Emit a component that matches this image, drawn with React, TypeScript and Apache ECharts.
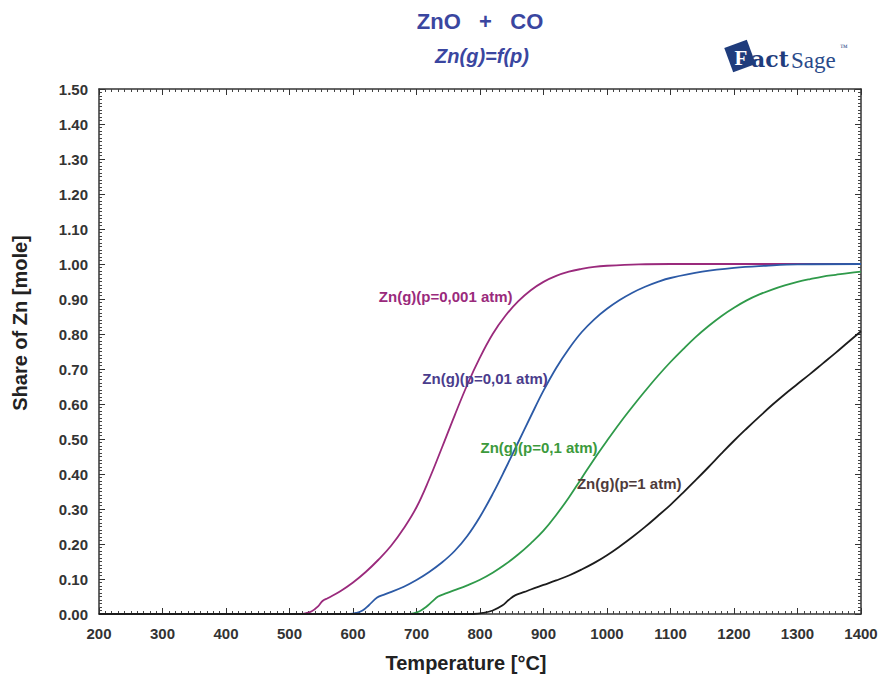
import React, { useEffect, useRef } from "react";
import * as echarts from "echarts";

const xTicks = [200, 300, 400, 500, 600, 700, 800, 900, 1000, 1100, 1200, 1300, 1400];
const yTickLabels = ["0.00","0.10","0.20","0.30","0.40","0.50","0.60","0.70","0.80","0.90","1.00","1.10","1.20","1.30","1.40","1.50"];

const p0001T = [200, 515, 525, 535, 545, 552, 560, 580, 600, 620, 640, 660, 680, 700, 720, 740, 760, 780, 800, 820, 840, 860, 880, 900, 920, 940, 960, 980, 1000, 1050, 1100, 1400];
const p0001V = [0, 0, 0.002, 0.008, 0.022, 0.037, 0.045, 0.065, 0.09, 0.12, 0.155, 0.195, 0.245, 0.305, 0.385, 0.475, 0.567, 0.655, 0.733, 0.80, 0.852, 0.893, 0.925, 0.949, 0.966, 0.978, 0.986, 0.992, 0.995, 0.999, 1.0, 1.0];

const p001T = [200, 595, 605, 615, 625, 638, 650, 680, 700, 720, 740, 760, 780, 800, 820, 840, 860, 880, 900, 920, 940, 960, 980, 1000, 1020, 1040, 1060, 1080, 1100, 1150, 1200, 1250, 1300, 1400];
const p001V = [0, 0, 0.003, 0.01, 0.025, 0.047, 0.056, 0.078, 0.097, 0.12, 0.147, 0.18, 0.223, 0.278, 0.343, 0.415, 0.49, 0.565, 0.638, 0.703, 0.758, 0.805, 0.842, 0.872, 0.897, 0.918, 0.935, 0.949, 0.96, 0.978, 0.989, 0.995, 0.999, 1.0];

const p01T = [200, 685, 695, 705, 715, 725, 734, 745, 760, 780, 800, 820, 840, 860, 880, 900, 920, 940, 960, 980, 1000, 1020, 1040, 1060, 1080, 1100, 1120, 1140, 1160, 1180, 1200, 1220, 1240, 1260, 1280, 1300, 1320, 1340, 1360, 1380, 1400];
const p01V = [0, 0, 0.002, 0.008, 0.02, 0.036, 0.05, 0.058, 0.068, 0.082, 0.098, 0.118, 0.142, 0.17, 0.202, 0.238, 0.283, 0.333, 0.388, 0.443, 0.495, 0.545, 0.592, 0.637, 0.68, 0.72, 0.757, 0.792, 0.823, 0.851, 0.875, 0.896, 0.913, 0.927, 0.939, 0.949, 0.957, 0.964, 0.969, 0.974, 0.978];

const p1T = [200, 790, 805, 820, 835, 845, 856, 870, 880, 900, 920, 940, 960, 980, 1000, 1020, 1040, 1060, 1080, 1100, 1120, 1140, 1160, 1180, 1200, 1220, 1240, 1260, 1280, 1300, 1320, 1340, 1360, 1380, 1400];
const p1V = [0, 0, 0.003, 0.01, 0.024, 0.04, 0.054, 0.063, 0.07, 0.083, 0.096, 0.11, 0.127, 0.146, 0.168, 0.193, 0.22, 0.249, 0.28, 0.312, 0.347, 0.383, 0.42, 0.458, 0.495, 0.53, 0.564, 0.597, 0.628, 0.657, 0.686, 0.716, 0.746, 0.777, 0.808];

const seriesNames = ["Zn(g)(p=0,001 atm)", "Zn(g)(p=0,01 atm)", "Zn(g)(p=0,1 atm)", "Zn(g)(p=1 atm)"];
const seriesT = [p0001T, p001T, p01T, p1T];
const seriesV = [p0001V, p001V, p01V, p1V];
const lineColors = ["#9a2a7c", "#2c5aa6", "#2f9a4a", "#1c1c1c"];
const labelColors = ["#9a2a7c", "#4a3c8c", "#3c9a3c", "#4e3a3a"];
// label anchor positions in data coordinates [T, value]
const labelAnchors = [[746, 0.906], [808, 0.674], [893, 0.477], [1035, 0.374]];

const FONT = "'Liberation Sans', Arial, sans-serif";

export default function App() {
  const ref = useRef<HTMLDivElement>(null);
  useEffect(() => {
    const chart = echarts.init(ref.current!, null, { renderer: "svg" });
    const axisCommon = {
      type: "value" as const,
      axisLine: { show: true, onZero: false, lineStyle: { color: "#333", width: 1.5 } },
      axisTick: { show: true, inside: true, length: 6, lineStyle: { color: "#333", width: 1 } },
      minorTick: { show: true, splitNumber: 10, length: 3, lineStyle: { color: "#444", width: 1 } },
      splitLine: { show: false },
    };
    chart.setOption({
      animation: false,
      backgroundColor: "#ffffff",
      grid: { left: 99, right: 22, top: 89, bottom: 63 },
      xAxis: [
        {
          ...axisCommon,
          position: "bottom",
          min: 200,
          max: 1400,
          interval: 100,
          axisLabel: {
            margin: 12,
            color: "#333",
            fontFamily: FONT,
            fontWeight: "bold",
            fontSize: 15,
            formatter: (v: number) => (xTicks.includes(v) ? String(v) : ""),
          },
        },
        {
          ...axisCommon,
          position: "top",
          min: 200,
          max: 1400,
          interval: 100,
          axisLabel: { show: false },
        },
      ],
      yAxis: [
        {
          ...axisCommon,
          position: "left",
          min: 0,
          max: 1.5,
          interval: 0.1,
          axisLabel: {
            margin: 11,
            color: "#333",
            fontFamily: FONT,
            fontWeight: "bold",
            fontSize: 15,
            formatter: (v: number) => yTickLabels[Math.round(v * 10)] ?? "",
          },
        },
        {
          ...axisCommon,
          position: "right",
          min: 0,
          max: 1.5,
          interval: 0.1,
          axisLabel: { show: false },
        },
      ],
      series: seriesNames.map((name, i) => ({
        name,
        type: "line",
        xAxisIndex: 0,
        yAxisIndex: 0,
        showSymbol: false,
        smooth: 0.4,
        lineStyle: { color: lineColors[i], width: 1.8 },
        data: seriesT[i].map((t, j) => [t, seriesV[i][j]]),
        z: 3,
      })),
    });

    const labelGraphics = seriesNames.map((name, i) => {
      const p = chart.convertToPixel({ xAxisIndex: 0, yAxisIndex: 0 }, labelAnchors[i]) as number[];
      return {
        type: "text",
        x: p[0],
        y: p[1],
        z: 10,
        style: {
          text: name,
          fill: labelColors[i],
          font: `bold 15px ${FONT}`,
          align: "center",
          verticalAlign: "middle",
        },
      };
    });

    chart.setOption({
      graphic: [
        ...labelGraphics,
        {
          type: "text",
          x: 480,
          y: 21,
          style: { text: "ZnO   +   CO", fill: "#3a46a0", font: `bold 22px ${FONT}`, align: "center", verticalAlign: "middle" },
        },
        {
          type: "text",
          x: 482,
          y: 56,
          style: { text: "Zn(g)=f(p)", fill: "#3a46a0", font: `italic bold 20px ${FONT}`, align: "center", verticalAlign: "middle" },
        },
        {
          type: "text",
          x: 20,
          y: 323,
          rotation: Math.PI / 2,
          style: { text: "Share of Zn [mole]", fill: "#222", font: `bold 20px ${FONT}`, align: "center", verticalAlign: "middle" },
        },
        {
          type: "text",
          x: 466,
          y: 663,
          style: { text: "Temperature [°C]", fill: "#222", font: `bold 20px ${FONT}`, align: "center", verticalAlign: "middle" },
        },
        {
          type: "group",
          x: 0,
          y: 0,
          children: [
            {
              type: "rect",
              x: 740,
              y: 56,
              rotation: 0.35,
              shape: { x: -12, y: -13, width: 24, height: 26 },
              style: { fill: "#1f3c7c" },
            },
            {
              type: "text",
              x: 741,
              y: 58,
              style: { text: "F", fill: "#ffffff", font: "bold 21px 'Liberation Serif', serif", align: "center", verticalAlign: "middle" },
            },
            {
              type: "text",
              x: 751,
              y: 59,
              style: { text: "act", fill: "#1f3c7c", font: "bold 22px 'DejaVu Serif', serif", align: "left", verticalAlign: "middle" },
            },
            {
              type: "text",
              x: 791,
              y: 60,
              style: { text: "Sage", fill: "#2a4a8a", font: "23px 'Liberation Serif', serif", align: "left", verticalAlign: "middle" },
            },
            {
              type: "text",
              x: 840,
              y: 47,
              style: { text: "™", fill: "#2a4a8a", font: "8px 'Liberation Serif', serif", align: "left", verticalAlign: "middle" },
            },
          ],
        },
      ],
    });

    return () => chart.dispose();
  }, []);
  return <div ref={ref} style={{ width: 883, height: 677, position: "absolute", left: 0, top: 0 }} />;
}
